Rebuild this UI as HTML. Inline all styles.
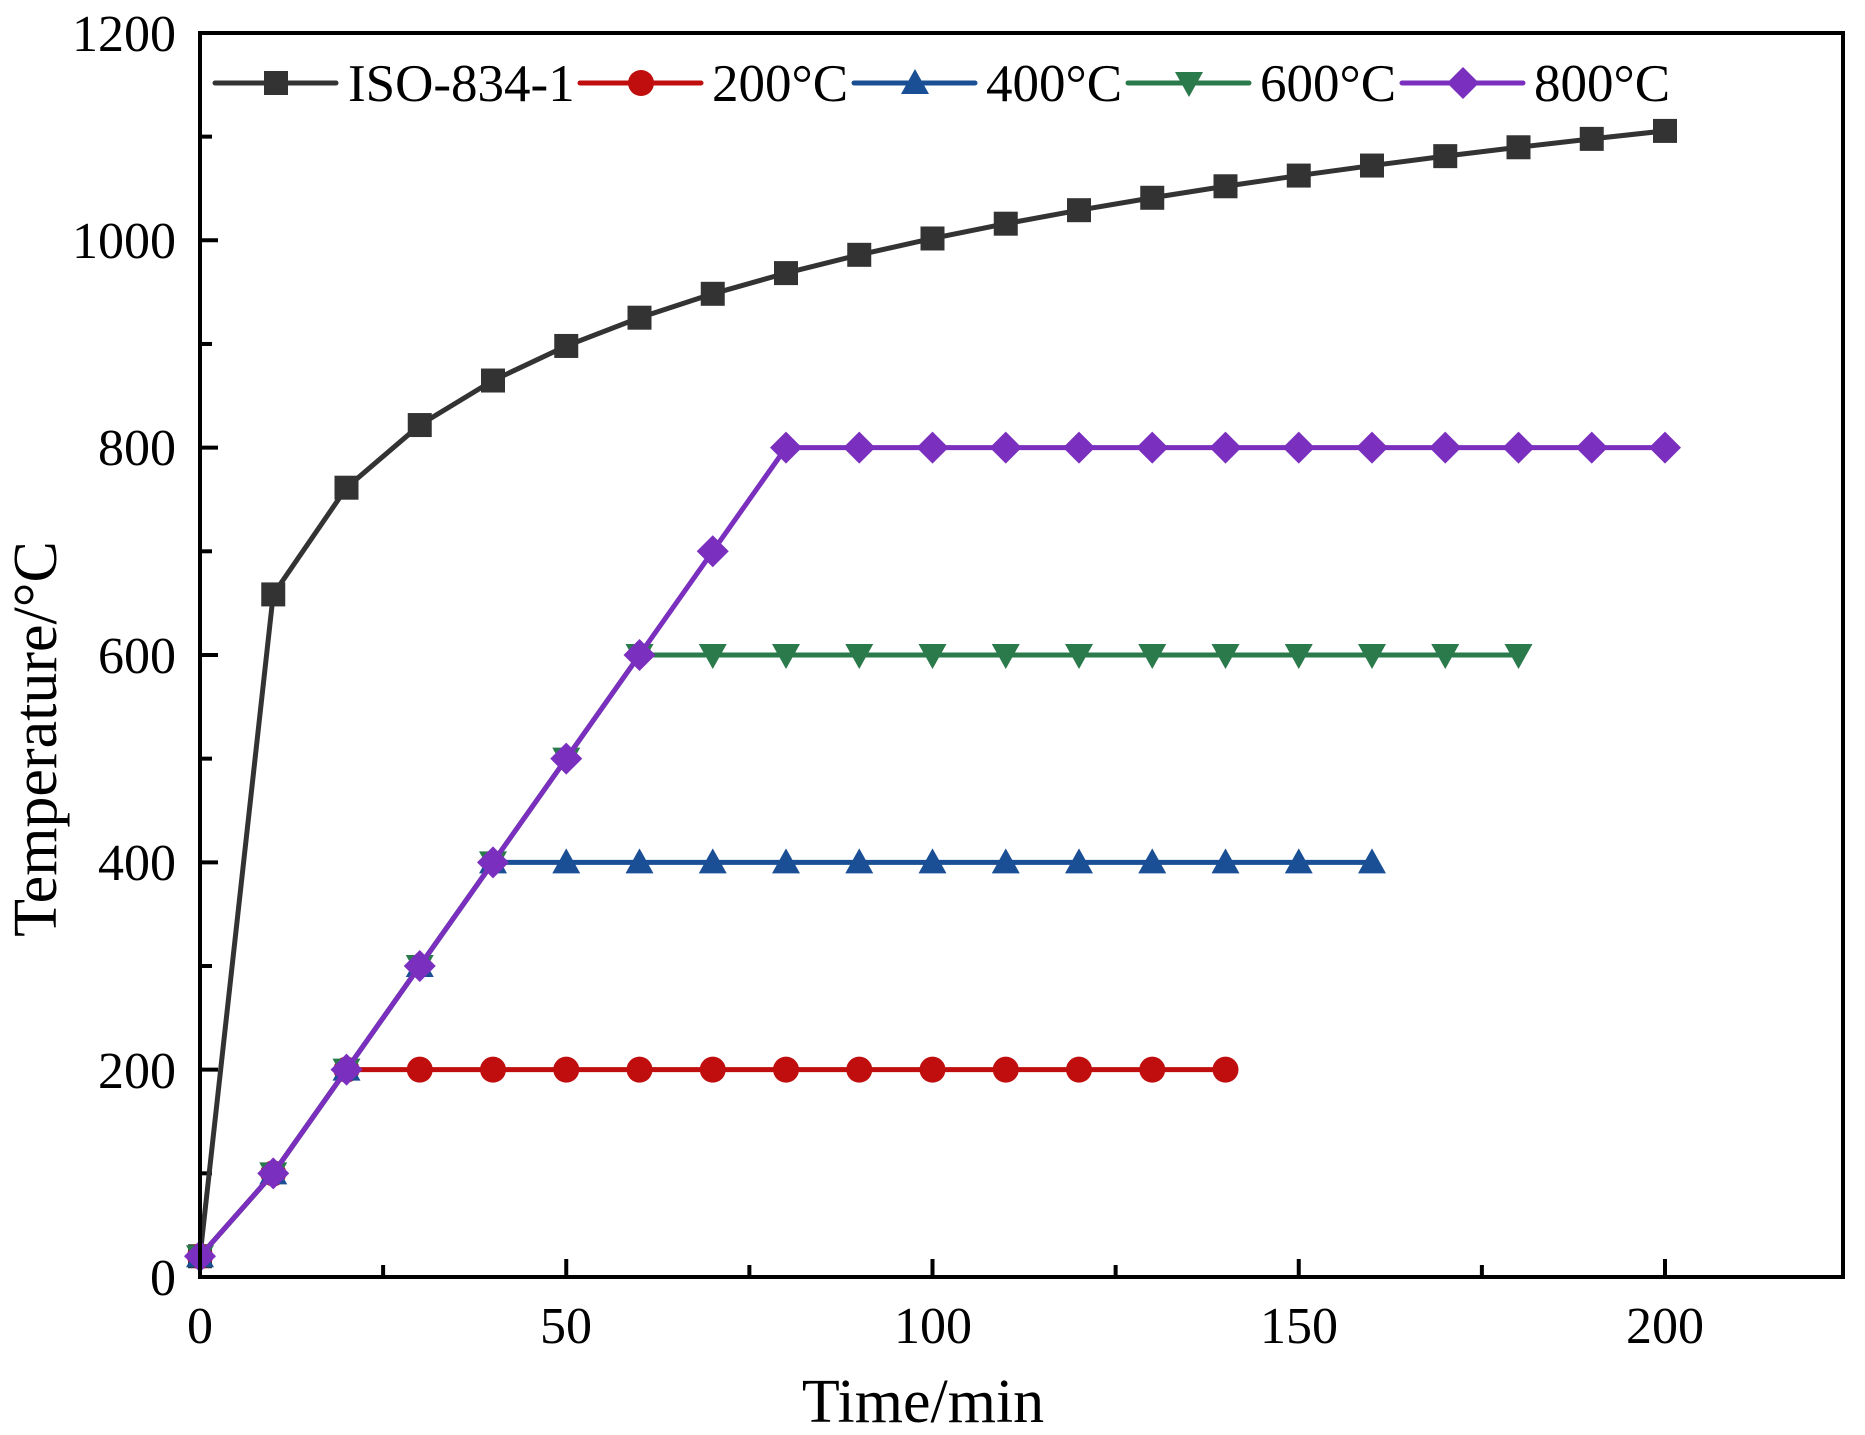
<!DOCTYPE html>
<html><head><meta charset="utf-8"><style>html,body{margin:0;padding:0;background:#fff}svg{display:block}</style></head>
<body>
<svg id="s" width="1865" height="1435" xmlns="http://www.w3.org/2000/svg" font-family="'Liberation Serif', serif">
<g id="ticks" stroke="#000" stroke-width="4"></g>
<g id="series"></g>
<rect x="200" y="33" width="1643" height="1244" fill="none" stroke="#000" stroke-width="4"/>
<g font-size="52" text-anchor="middle">
<text x="200" y="1343">0</text><text x="566" y="1343">50</text><text x="933" y="1343">100</text><text x="1299" y="1343">150</text><text x="1665" y="1343">200</text>
</g>
<g font-size="52" text-anchor="end">
<text x="176" y="1295">0</text><text x="176" y="1088">200</text><text x="176" y="880">400</text><text x="176" y="673">600</text><text x="176" y="465">800</text><text x="176" y="258">1000</text><text x="176" y="51">1200</text>
</g>
<text x="923" y="1422" font-size="62" text-anchor="middle">Time/min</text>
<text transform="translate(56,739) rotate(-90)" font-size="62" text-anchor="middle">Temperature/°C</text>
<g font-size="53" id="leg">
<text x="348" y="101">ISO-834-1</text>
<text x="712" y="101">200°C</text>
<text x="986" y="101">400°C</text>
<text x="1260" y="101">600°C</text>
<text x="1534" y="101">800°C</text>
</g>
</svg>
<script>
var NS="http://www.w3.org/2000/svg";
function X(t){return 200+7.325*t}function Y(v){return 1277-1.0367*v}
function el(p,n,a){var e=document.createElementNS(NS,n);for(var k in a)e.setAttribute(k,a[k]);p.appendChild(e);return e}
var tk=document.getElementById('ticks');
for(var t=25;t<=200;t+=25){var L=(t%50==0)?18:12;el(tk,'line',{x1:X(t),x2:X(t),y1:1277,y2:1277-L});}
for(var v=100;v<1200;v+=100){var L=(v%200==0)?18:12;el(tk,'line',{x1:200,x2:200+L,y1:Y(v),y2:Y(v)});}
var sg=document.getElementById('series');
function marker(g,type,x,y,c){
 if(type=='sq')el(g,'rect',{x:x-12,y:y-12,width:24,height:24,fill:c});
 else if(type=='ci')el(g,'circle',{cx:x,cy:y,r:13,fill:c});
 else if(type=='up')el(g,'polygon',{points:(x)+','+(y-14)+' '+(x+14)+','+(y+11)+' '+(x-14)+','+(y+11),fill:c});
 else if(type=='dn')el(g,'polygon',{points:(x)+','+(y+14)+' '+(x+14)+','+(y-11)+' '+(x-14)+','+(y-11),fill:c});
 else el(g,'polygon',{points:x+','+(y-16)+' '+(x+16)+','+y+' '+x+','+(y+16)+' '+(x-16)+','+y,fill:c});
}
function series(pts,type,c,lx){
 var g=el(sg,'g',{});
 el(g,'polyline',{points:pts.map(function(p){return X(p[0])+','+Y(p[1])}).join(' '),fill:'none',stroke:c,'stroke-width':5,'stroke-linejoin':'round'});
 pts.forEach(function(p){marker(g,type,X(p[0]),Y(p[1]),c)});
 el(g,'line',{x1:lx,x2:lx+121,y1:83,y2:83,stroke:c,'stroke-width':5,'stroke-linecap':'round'});
 marker(g,type,lx+61,83,c);
}
var iso=[];for(var t=0;t<=200;t+=10)iso.push([t,t==0?20:345*Math.log10(8*t+1)]);
function ramp(max,end){var p=[];for(var t=0;t<=end;t+=10){var v=t==0?20:Math.min(10*t,max);p.push([t,v])}return p}
series(iso,'sq','#333333',215);
series(ramp(200,140),'ci','#c00d0d',580);
series(ramp(400,160),'up','#1a4f96',854);
series(ramp(600,180),'dn','#2a7a4b',1128);
series(ramp(800,200),'di','#7b2fbe',1402);
</script>
</body></html>
